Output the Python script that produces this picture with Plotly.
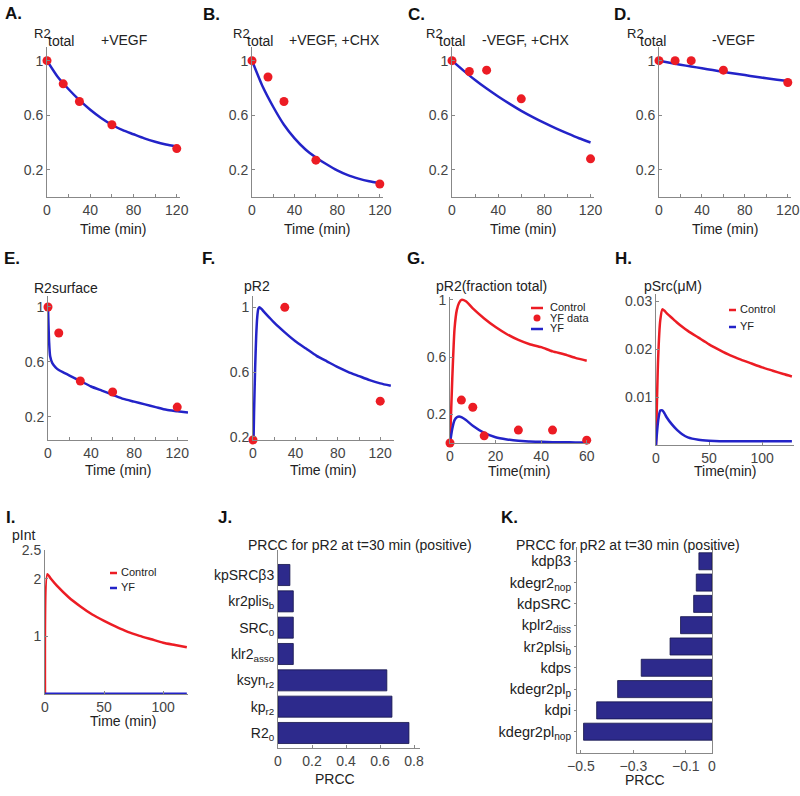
import plotly.graph_objects as go

W, H = 800, 796

# ---------------- data ----------------
t_pts = [0, 15, 30, 60, 120]
A_pts = [1.0, 0.83, 0.70, 0.53, 0.355]
B_pts = [1.0, 0.88, 0.70, 0.27, 0.095]
C_pts = [1.0, 0.92, 0.93, 0.72, 0.28]
D_pts = [1.0, 1.0, 1.0, 0.93, 0.84]

t_fit = [0, 10, 20, 30, 40, 50, 60, 70, 80, 90, 100, 110, 120]
A_fit = [1.0, 0.88, 0.79, 0.71, 0.64, 0.58, 0.53, 0.49, 0.46, 0.43, 0.405, 0.385, 0.37]
B_fit = [1.0, 0.81, 0.66, 0.53, 0.43, 0.35, 0.29, 0.24, 0.195, 0.16, 0.135, 0.115, 0.10]
C_fit = [1.0, 0.927, 0.858, 0.795, 0.737, 0.683, 0.632, 0.586, 0.543, 0.503, 0.466, 0.431, 0.40]
D_fit = [1.0, 0.985, 0.97, 0.957, 0.944, 0.931, 0.918, 0.906, 0.894, 0.882, 0.871, 0.86, 0.85]

E_t_pts = [0, 10, 30, 60, 120]
E_pts = [1.0, 0.81, 0.46, 0.38, 0.27]
E_t_fit = [0, 1, 2, 4, 7, 10, 15, 20, 30, 40, 50, 60, 70, 80, 90, 100, 110, 120, 130]
E_fit = [1.0, 0.75, 0.64, 0.59, 0.56, 0.54, 0.52, 0.50, 0.46, 0.42, 0.39, 0.36, 0.33, 0.31, 0.29, 0.27, 0.25, 0.24, 0.23]

F_t_pts = [0, 30, 120]
F_pts = [0.18, 1.0, 0.42]
F_t_fit = [0, 1, 2, 3, 4, 5, 6, 8, 10, 15, 20, 30, 40, 50, 60, 70, 80, 90, 100, 110, 120, 130]
F_fit = [0.0, 0.35, 0.62, 0.82, 0.94, 0.99, 1.0, 0.99, 0.975, 0.94, 0.905, 0.845, 0.79,
         0.745, 0.70, 0.665, 0.63, 0.60, 0.575, 0.55, 0.53, 0.515]

G_t = [0, 1, 2, 3, 4, 5, 7, 10, 15, 20, 25, 30, 35, 40, 45, 50, 55, 60]
G_control = [0.0, 0.45, 0.80, 0.93, 0.98, 1.0, 0.99, 0.94, 0.87, 0.81, 0.76, 0.72, 0.69,
             0.67, 0.64, 0.62, 0.595, 0.575]
G_yf = [0.0, 0.10, 0.16, 0.18, 0.185, 0.18, 0.16, 0.12, 0.07, 0.04, 0.025, 0.015, 0.011,
        0.008, 0.006, 0.005, 0.004, 0.004]
G_data_t = [0, 5, 10, 15, 30, 45, 60]
G_data = [0.0, 0.30, 0.25, 0.05, 0.09, 0.09, 0.02]

H_t = [0, 2, 4, 6, 8, 10, 15, 20, 25, 30, 40, 50, 60, 70, 80, 90, 100, 110, 120, 128]
H_control = [0.0, 0.018, 0.026, 0.0283, 0.028, 0.0275, 0.0265, 0.0255, 0.0246, 0.0238,
             0.0224, 0.021, 0.0198, 0.0187, 0.0178, 0.017, 0.0162, 0.0155, 0.0148, 0.0143]
H_yf = [0.0, 0.005, 0.0072, 0.0072, 0.0066, 0.0058, 0.0043, 0.0031, 0.0022, 0.0016,
        0.0011, 0.0009, 0.0008, 0.0008, 0.0008, 0.0008, 0.0008, 0.0008, 0.0008, 0.0008]

I_t = [0, 2, 5, 10, 20, 30, 40, 50, 60, 70, 80, 90, 100, 110, 120]
I_control = [0.0, 2.08, 2.0, 1.88, 1.68, 1.52, 1.38, 1.27, 1.17, 1.08, 1.01, 0.95, 0.89, 0.85, 0.81]
I_yf = [0.0] * len(I_t)

J_params = ["kpSRCβ3", "kr2plis<sub>b</sub>", "SRC<sub>0</sub>", "klr2<sub>asso</sub>",
            "ksyn<sub>r2</sub>", "kp<sub>r2</sub>", "R2<sub>0</sub>"]
J_prcc = [0.07, 0.09, 0.09, 0.09, 0.64, 0.67, 0.77]

K_params = ["kdpβ3", "kdegr2<sub>nop</sub>", "kdpSRC", "kplr2<sub>diss</sub>",
            "kr2plsi<sub>b</sub>", "kdps", "kdegr2pl<sub>p</sub>", "kdpi", "kdegr2pl<sub>nop</sub>"]
K_prcc = [-0.05, -0.06, -0.07, -0.12, -0.16, -0.27, -0.36, -0.44, -0.49]

RED = "#EC1C24"
BLUE = "#2323C8"
BAR = "#2D2A8C"
FONT = "Liberation Sans, Arial, sans-serif"


def px(x):
    return x / W


def py(y):
    return 1 - y / H


def dxp(a, b):
    return [px(a), px(b)]


def dyp(top, bottom):
    return [py(bottom), py(top)]


fig = go.Figure()

axis_base = dict(showline=True, linecolor="#888", linewidth=1, ticks="inside", ticklen=3,
                 tickcolor="#888", showgrid=False, zeroline=False, automargin=False,
                 tickfont=dict(size=14, color="#444", family=FONT))

layout = {}


def set_axes(i, xdom, ydom, xr, yr, xt=None, yt=None, xextra=None, yextra=None):
    xa_ = dict(axis_base, domain=dxp(*xdom), range=xr, anchor=f"y{i}" if i > 1 else "y")
    ya_ = dict(axis_base, domain=dyp(*ydom), range=yr, anchor=f"x{i}" if i > 1 else "x")
    if xt is not None:
        xa_["tickvals"] = xt
    if yt is not None:
        ya_["tickvals"] = yt
    if xextra:
        xa_.update(xextra)
    if yextra:
        ya_.update(yextra)
    layout["xaxis" if i == 1 else f"xaxis{i}"] = xa_
    layout["yaxis" if i == 1 else f"yaxis{i}"] = ya_


def xa(i):
    return "x" if i == 1 else f"x{i}"


def ya(i):
    return "y" if i == 1 else f"y{i}"


def line(i, x, y, color, width=2.5):
    fig.add_trace(go.Scatter(x=x, y=y, mode="lines",
                             line=dict(color=color, width=width, shape="spline", smoothing=0.6),
                             xaxis=xa(i), yaxis=ya(i), showlegend=False, hoverinfo="skip"))


def dots(i, x, y):
    fig.add_trace(go.Scatter(x=x, y=y, mode="markers", marker=dict(color=RED, size=9),
                             xaxis=xa(i), yaxis=ya(i), showlegend=False, cliponaxis=False))


minor20 = dict(minor=dict(dtick=20, ticks="inside", ticklen=3, tickcolor="#888"))

# Row 1
row1 = [(1, (47, 180), A_fit, A_pts), (2, (252, 383), B_fit, B_pts),
        (3, (452, 594), C_fit, C_pts), (4, (659, 791), D_fit, D_pts)]
for i, xd, fit, pts in row1:
    set_axes(i, xd, (47, 197), [0, 123], [0, 1.1], [0, 40, 80, 120], [0.2, 0.6, 1],
             xextra=minor20)
    line(i, t_fit, fit, BLUE)
    dots(i, t_pts, pts)

# Row 2
set_axes(5, (48, 188), (296, 440), [0, 130], [0.03, 1.08], [0, 40, 80, 120], [0.2, 0.6, 1],
         xextra=minor20)
line(5, E_t_fit, E_fit, BLUE)
dots(5, E_t_pts, E_pts)

set_axes(6, (253, 394), (296, 440), [0, 133], [0.18, 1.07], [0, 40, 80, 120], [0.2, 0.6, 1],
         xextra=minor20)
line(6, F_t_fit, F_fit, BLUE)
dots(6, F_t_pts, F_pts)

set_axes(7, (450, 589), (297, 443), [0, 61], [0, 1.02], [0, 20, 40, 60], [0.2, 0.6, 1])
line(7, G_t, G_control, RED)
line(7, G_t, G_yf, BLUE)
dots(7, G_data_t, G_data)

set_axes(8, (656, 794), (294, 445), [0, 130], [0, 0.0315], [0, 50, 100], [0.01, 0.02, 0.03])
line(8, H_t, H_control, RED)
line(8, H_t, H_yf, BLUE)

# Row 3
set_axes(9, (45, 188), (550, 694), [0, 121], [0, 2.5], [0, 50, 100], [1, 2, 2.5])
line(9, I_t, I_control, RED)
line(9, I_t, I_yf, BLUE, 3)

set_axes(10, (278, 420), (550, 748), [0, 0.835], [-0.57, 6.95], [0, 0.2, 0.4, 0.6, 0.8], None,
         yextra=dict(type="category", categoryorder="array", categoryarray=J_params[::-1],
                     ticks="", tickfont=dict(size=14, color="#222", family=FONT)))
fig.add_trace(go.Bar(x=J_prcc, y=J_params, orientation="h",
                     marker=dict(color=BAR, line=dict(color="#14144a", width=0.8)),
                     xaxis="x10", yaxis="y10", showlegend=False))

set_axes(11, (577, 712), (547, 753), [-0.515, 0], [-1.0, 8.67], [-0.5, -0.3, -0.1, 0], None,
         yextra=dict(type="category", categoryorder="array", categoryarray=K_params[::-1],
                     ticks="outside", ticklen=2, mirror=True,
                     tickfont=dict(size=14.5, color="#222", family=FONT)))
fig.add_trace(go.Bar(x=K_prcc, y=K_params, orientation="h",
                     marker=dict(color=BAR, line=dict(color="#14144a", width=0.8)),
                     xaxis="x11", yaxis="y11", showlegend=False))

# ---------------- annotations ----------------
anns = []


def txt(x, y, s, size=14, anchor="left", bold=False, color="#222"):
    anns.append(dict(x=px(x), y=py(y), xref="paper", yref="paper",
                     text=f"<b>{s}</b>" if bold else s,
                     showarrow=False, xanchor=anchor, yanchor="middle",
                     font=dict(size=size, color=color, family=FONT)))


for lab, x, y in [("A.", 3, 13), ("B.", 201, 14), ("C.", 406, 14), ("D.", 612, 15),
                  ("E.", 2, 258), ("F.", 200, 258), ("G.", 405, 258), ("H.", 613, 258),
                  ("I.", 4, 517), ("J.", 216, 517), ("K.", 499, 517)]:
    txt(x, y, lab, 17, bold=True, color="#111")

for x_r2, x_tot, x_cond, cond in [(32, 46, 99, "+VEGF"), (231, 245, 287, "+VEGF, +CHX"),
                                   (424, 437, 480, "-VEGF, +CHX"), (625, 638, 710, "-VEGF")]:
    txt(x_r2, 33, "R2", 13)
    txt(x_tot, 41, "total", 14)
    txt(x_cond, 40, cond, 14)

for xc in [113, 317, 523, 725]:
    txt(xc, 229, "Time (min)", 14, anchor="center")

txt(32, 288, "R2surface", 14)
txt(242, 286, "pR2", 14)
txt(434, 286, "pR2(fraction total)", 14)
txt(642, 286, "pSrc(μM)", 14)
txt(118, 470, "Time (min)", 14, anchor="center")
txt(323, 470, "Time (min)", 14, anchor="center")
txt(519, 471, "Time(min)", 14, anchor="center")
txt(725, 471, "Time(min)", 14, anchor="center")

txt(10, 535, "pInt", 14)
txt(123, 721, "Time (min)", 14, anchor="center")
txt(360, 545, "PRCC for pR2 at t=30 min (positive)", 14, anchor="center")
txt(628, 545, "PRCC for pR2 at t=30 min (positive)", 14, anchor="center")
txt(335, 779, "PRCC", 14, anchor="center")
txt(645, 780, "PRCC", 14, anchor="center")

# manual legends
shapes = []


def leg_line(x0, x1, y, color):
    shapes.append(dict(type="line", xref="paper", yref="paper", x0=px(x0), x1=px(x1),
                       y0=py(y), y1=py(y), line=dict(color=color, width=2.5)))


def leg_dot(x, y, color):
    r = 3.5
    shapes.append(dict(type="circle", xref="paper", yref="paper", x0=px(x - r), x1=px(x + r),
                       y0=py(y + r), y1=py(y - r), fillcolor=color, line=dict(width=0)))


leg_line(531, 543, 308, RED); txt(548, 307, "Control", 11)
leg_dot(537, 318, RED); txt(548, 318, "YF data", 11)
leg_line(531, 543, 329, BLUE); txt(548, 328, "YF", 11)

leg_line(729, 736, 310, RED); txt(738, 309, "Control", 11)
leg_line(729, 736, 327, BLUE); txt(738, 326, "YF", 11)

leg_line(110, 117, 573, RED); txt(119, 572, "Control", 11)
leg_line(110, 117, 588, BLUE); txt(119, 587, "YF", 11)

fig.update_layout(**layout)
fig.update_layout(template="none", width=W, height=H,
                  margin=dict(l=0, r=0, t=0, b=0, pad=0, autoexpand=False),
                  plot_bgcolor="white", paper_bgcolor="white", annotations=anns, shapes=shapes,
                  bargap=0.2, font=dict(family=FONT), showlegend=False)

# remove the default page margin so the 800x796 figure sits at the window origin
fig.write_html("out.html", post_script="document.body.style.margin='0';",
               config={"displayModeBar": False})
